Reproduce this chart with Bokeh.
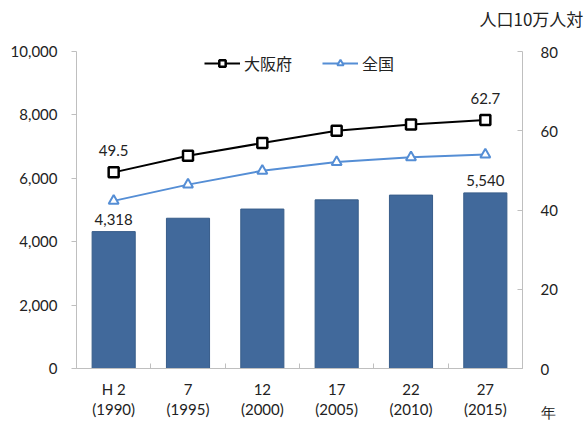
from bokeh.plotting import figure
from bokeh.models import (Range1d, LinearAxis, FixedTicker, NumeralTickFormatter,
                          Title, Legend, LegendItem)
from bokeh.core.properties import value
from bokeh.embed import file_html
from bokeh.resources import INLINE

categories = ["H 2\n(1990)", "7\n(1995)", "12\n(2000)", "17\n(2005)", "22\n(2010)", "27\n(2015)"]
clinics = [4318, 4740, 5030, 5320, 5470, 5540]
osaka = [49.5, 53.7, 56.9, 60.0, 61.6, 62.7]
national = [42.3, 46.4, 49.9, 52.1, 53.3, 54.0]
left_ticks = [0, 2000, 4000, 6000, 8000, 10000]
right_ticks = [0, 20, 40, 60, 80]
labelled = [0, 5]
rate_unit = "人口10万人対"
year_unit = "年"

NUM_FONT = "Lato"
JP_FONT = "Noto Sans CJK JP"
BAR_COLOR = "#41699B"
NAT_COLOR = "#558ED5"
AXIS_COLOR = "#BFBFBF"
TEXT_COLOR = "#222222"

xs = [i + 0.5 for i in range(len(categories))]

p = figure(width=586, height=421, output_backend="svg", toolbar_location=None,
           x_range=Range1d(0, len(categories)), y_range=Range1d(0, 10000),
           min_border_left=76, min_border_right=64, min_border_top=51, min_border_bottom=52)
p.extra_y_ranges = {"rate": Range1d(0, 80)}
p.outline_line_color = None
p.xgrid.visible = False
p.ygrid.visible = False

p.vbar(x=xs, top=clinics, width=0.58, fill_color=BAR_COLOR, line_color="#385D8A")

l1 = p.line(xs, osaka, y_range_name="rate", line_color="black", line_width=2)
s1 = p.scatter(xs, osaka, y_range_name="rate", marker="square", size=10,
               fill_color="white", line_color="black", line_width=2.5)
l2 = p.line(xs, national, y_range_name="rate", line_color=NAT_COLOR, line_width=2)
s2 = p.scatter(xs, national, y_range_name="rate", marker="triangle", size=10,
               fill_color="white", line_color=NAT_COLOR, line_width=2)

p.text(x=[xs[i] for i in labelled], y=[clinics[i] for i in labelled],
       text=[f"{clinics[i]:,}" for i in labelled], y_offset=-12,
       text_align="center", text_baseline="middle", text_font=value(NUM_FONT),
       text_font_size="15px", text_color=TEXT_COLOR)
p.text(x=[xs[i] for i in labelled], y=[osaka[i] for i in labelled], y_range_name="rate",
       text=[f"{osaka[i]:.1f}" for i in labelled], y_offset=-22,
       text_align="center", text_baseline="middle", text_font=value(NUM_FONT),
       text_font_size="15px", text_color=TEXT_COLOR)

# left axis
ya = p.yaxis[0]
ya.ticker = FixedTicker(ticks=left_ticks)
ya.formatter = NumeralTickFormatter(format="0,0")
ya.axis_line_color = AXIS_COLOR
ya.major_tick_line_color = AXIS_COLOR
ya.major_tick_in = 0
ya.major_tick_out = 5
ya.minor_tick_line_color = None
ya.minor_tick_out = 0
ya.major_label_standoff = 14
ya.major_label_text_font = NUM_FONT
ya.major_label_text_font_size = "15px"
ya.major_label_text_color = TEXT_COLOR

# right axis (the year unit sits two lines under its "0")
ra = LinearAxis(y_range_name="rate", ticker=FixedTicker(ticks=right_ticks))
ra.major_label_overrides = {right_ticks[0]: f"\n\n{right_ticks[0]}\n\n{year_unit}"}
ra.axis_line_color = AXIS_COLOR
ra.major_tick_line_color = AXIS_COLOR
ra.major_tick_in = 5
ra.major_tick_out = 0
ra.minor_tick_line_color = None
ra.minor_tick_out = 0
ra.major_label_standoff = 18
ra.major_label_text_font = NUM_FONT
ra.major_label_text_font_size = "15px"
ra.major_label_text_color = TEXT_COLOR
ra.major_label_text_line_height = 1.2
p.add_layout(ra, "right")

# bottom axis
xa = p.xaxis[0]
xa.ticker = FixedTicker(ticks=xs, minor_ticks=list(range(len(categories) + 1)))
xa.major_label_overrides = {x: c for x, c in zip(xs, categories)}
xa.axis_line_color = AXIS_COLOR
xa.major_tick_line_color = None
xa.major_tick_in = 0
xa.major_tick_out = 0
xa.minor_tick_line_color = AXIS_COLOR
xa.minor_tick_in = 5
xa.minor_tick_out = 0
xa.major_label_standoff = 11
xa.major_label_text_font = NUM_FONT
xa.major_label_text_font_size = "15px"
xa.major_label_text_color = TEXT_COLOR
xa.major_label_text_line_height = 1.14

legend = Legend(items=[LegendItem(label="大阪府", renderers=[l1, s1]),
                       LegendItem(label="全国", renderers=[l2, s2])],
                orientation="horizontal", location="top_center",
                border_line_color=None, background_fill_alpha=0,
                label_text_font=JP_FONT, label_text_font_size="16px",
                label_text_color=TEXT_COLOR, label_standoff=4,
                glyph_width=36, glyph_height=16, label_height=16,
                spacing=30, margin=0, padding=0)
p.add_layout(legend)

p.add_layout(Title(text=rate_unit + "\n", align="left", offset=403, vertical_align="top",
                   standoff=-13, text_font=JP_FONT, text_font_size="17px",
                   text_font_style="normal", text_color=TEXT_COLOR), "above")

open("out.html", "w").write(file_html(p, INLINE))
